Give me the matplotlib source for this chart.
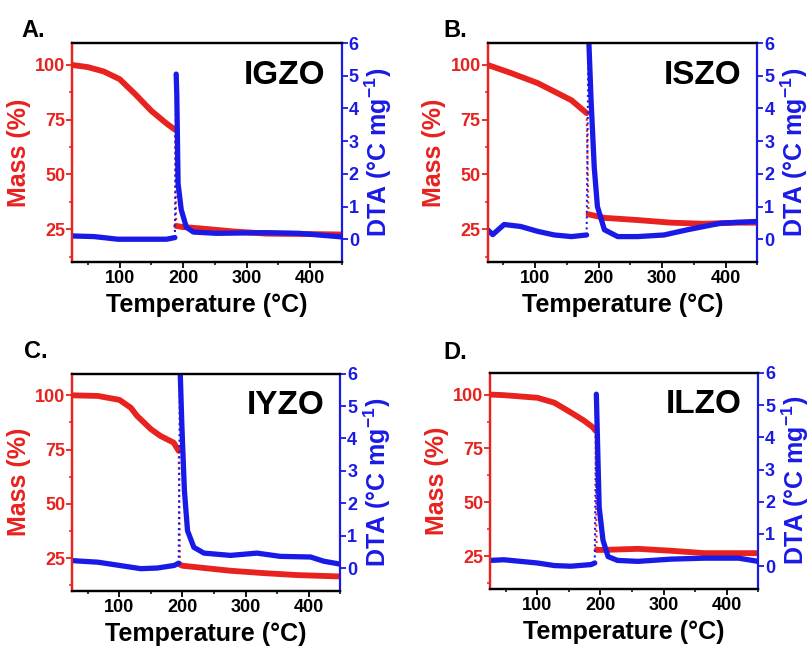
import matplotlib.pyplot as plt
from matplotlib.ticker import MultipleLocator

plt.rcParams['font.family'] = 'Liberation Sans'
plt.rcParams['font.weight'] = 'bold'
plt.rcParams['axes.labelweight'] = 'bold'
plt.rcParams['mathtext.fontset'] = 'custom'
plt.rcParams['mathtext.bf'] = 'Liberation Sans:bold'
plt.rcParams['mathtext.rm'] = 'Liberation Sans:bold'
plt.rcParams['mathtext.default'] = 'bf'

RED = '#e8221e'
BLUE = '#1a1ae6'

# A. IGZO  (t1/v1 before the sharp step, t2/v2 after it)
igzo_mass_t1 = [25, 50, 75, 100, 125, 150, 175, 187]
igzo_mass_v1 = [100, 99, 97, 93.5, 86.5, 79, 73, 70.5]
igzo_mass_t2 = [189, 200, 226, 279, 331, 400, 450]
igzo_mass_v2 = [26.5, 26, 25.4, 24, 23, 22.8, 22.6]
igzo_dta_t1 = [25, 60, 97, 140, 174, 187]
igzo_dta_v1 = [0.1, 0.08, 0.0, 0.0, 0.0, 0.05]
igzo_dta_t2 = [189, 190, 192, 197, 205, 216, 252, 331, 383, 450]
igzo_dta_v2 = [5.05, 4.4, 1.7, 0.9, 0.37, 0.22, 0.18, 0.2, 0.18, 0.07]

# B. ISZO
iszo_mass_t1 = [25, 60, 104, 157, 181]
iszo_mass_v1 = [100, 96.5, 91.7, 83.9, 78]
iszo_mass_t2 = [184, 209, 261, 314, 366, 418, 450]
iszo_mass_v2 = [31.8, 30.2, 29.2, 28, 27.5, 28, 28]
iszo_dta_t1 = [25, 33, 51, 77, 104, 130, 157, 181]
iszo_dta_v1 = [0.29, 0.14, 0.45, 0.39, 0.24, 0.13, 0.08, 0.13]
iszo_dta_t2 = [184, 188, 193, 198, 209, 230, 261, 303, 340, 392, 445, 450]
iszo_dta_v2 = [6.3, 4.25, 2.2, 1.0, 0.29, 0.08, 0.08, 0.13, 0.29, 0.49, 0.54, 0.54]

# C. IYZO
iyzo_mass_t1 = [25, 66, 100, 118, 128, 150, 165, 186, 194]
iyzo_mass_v1 = [100, 99.7, 97.9, 94.3, 90.5, 84.4, 81.3, 78.2, 74.4]
iyzo_mass_t2 = [196, 200, 276, 329, 382, 445, 450]
iyzo_mass_v2 = [22, 21.5, 19.2, 18.1, 17.2, 16.6, 16.6]
iyzo_dta_t1 = [25, 40, 66, 100, 134, 160, 187, 194]
iyzo_dta_v1 = [0.23, 0.21, 0.18, 0.08, -0.02, 0.0, 0.08, 0.15]
iyzo_dta_t2 = [196, 199, 203, 208, 218, 234, 276, 318, 355, 403, 424, 450]
iyzo_dta_v2 = [6.3, 4.4, 2.4, 1.15, 0.64, 0.46, 0.39, 0.46, 0.36, 0.34, 0.21, 0.12]

# D. ILZO
ilzo_mass_t1 = [25, 47, 100, 127, 153, 174, 188, 192]
ilzo_mass_v1 = [100, 99.7, 98.5, 96.2, 91.7, 87.9, 84.8, 83.3]
ilzo_mass_t2 = [194, 206, 259, 312, 365, 450]
ilzo_mass_v2 = [28, 28, 28.5, 27.6, 26.5, 26.5]
ilzo_dta_t1 = [25, 47, 100, 127, 153, 185, 191]
ilzo_dta_v1 = [0.18, 0.2, 0.1, 0.02, 0.0, 0.05, 0.1]
ilzo_dta_t2 = [193.5, 196, 198, 204, 212, 227, 259, 312, 365, 419, 450]
ilzo_dta_v2 = [5.34, 3.36, 1.83, 0.81, 0.3, 0.18, 0.15, 0.22, 0.25, 0.25, 0.15]

panels = [
    ('A.', 'IGZO', [0.089, 0.598, 0.333, 0.336], (0.027, 0.943),
     igzo_mass_t1, igzo_mass_v1, igzo_mass_t2, igzo_mass_v2,
     igzo_dta_t1, igzo_dta_v1, igzo_dta_t2, igzo_dta_v2),
    ('B.', 'ISZO', [0.602, 0.598, 0.333, 0.336], (0.547, 0.943),
     iszo_mass_t1, iszo_mass_v1, iszo_mass_t2, iszo_mass_v2,
     iszo_dta_t1, iszo_dta_v1, iszo_dta_t2, iszo_dta_v2),
    ('C.', 'IYZO', [0.089, 0.094, 0.331, 0.333], (0.030, 0.451),
     iyzo_mass_t1, iyzo_mass_v1, iyzo_mass_t2, iyzo_mass_v2,
     iyzo_dta_t1, iyzo_dta_v1, iyzo_dta_t2, iyzo_dta_v2),
    ('D.', 'ILZO', [0.605, 0.097, 0.331, 0.331], (0.547, 0.449),
     ilzo_mass_t1, ilzo_mass_v1, ilzo_mass_t2, ilzo_mass_v2,
     ilzo_dta_t1, ilzo_dta_v1, ilzo_dta_t2, ilzo_dta_v2),
]

fig = plt.figure(figsize=(8.1, 6.52), dpi=100)

for (letter, name, rect, lpos, mt1, mv1, mt2, mv2, dt1, dv1, dt2, dv2) in panels:
    ax = fig.add_axes(rect)
    ax2 = ax.twinx()

    # mass: thick segments, thin dotted step
    ax.plot(mt1, mv1, color=RED, lw=4.2, solid_capstyle='round')
    ax.plot([mt1[-1], mt2[0]], [mv1[-1], mv2[0]], color=RED, lw=1.5, ls=':')
    ax.plot(mt2, mv2, color=RED, lw=4.2, solid_capstyle='round')

    # DTA
    ax2.plot(dt1, dv1, color=BLUE, lw=3.8, solid_capstyle='round')
    ax2.plot([dt1[-1], dt2[0]], [dv1[-1], dv2[0]], color=BLUE, lw=1.5, ls=':')
    ax2.plot(dt2, dv2, color=BLUE, lw=3.8, solid_capstyle='round')

    ax.set_xlim(25, 450)
    ax.set_ylim(10, 110)
    ax2.set_ylim(-0.7, 6)
    ax.set_xticks([100, 200, 300, 400])
    ax.xaxis.set_minor_locator(MultipleLocator(50))
    ax.set_yticks([25, 50, 75, 100])
    ax.yaxis.set_minor_locator(MultipleLocator(12.5))
    ax2.set_yticks(range(0, 7))

    ax.tick_params(axis='x', which='major', direction='out', length=4, width=1.3, labelsize=13, pad=2)
    ax.tick_params(axis='x', which='minor', direction='out', length=2.5, width=1.1)
    ax.tick_params(axis='y', which='major', direction='out', length=4, width=1.3,
                   colors=RED, labelsize=13, pad=1)
    ax.tick_params(axis='y', which='minor', direction='out', length=2.5, width=1.1, colors=RED)
    ax2.tick_params(axis='y', direction='out', length=4, width=1.3, colors=BLUE,
                    labelsize=13, pad=1)

    for a in (ax, ax2):
        for s in a.spines.values():
            s.set_linewidth(1.6)
    ax.spines['left'].set_color(RED)
    ax2.spines['left'].set_color(RED)
    ax2.spines['right'].set_color(BLUE)
    ax.spines['right'].set_visible(False)

    ax.set_xlabel('Temperature (°C)', fontsize=18, fontweight='bold', labelpad=4)
    ax.set_ylabel('Mass (%)', fontsize=18, fontweight='bold', color=RED, labelpad=3)
    ax2.set_ylabel('DTA (°C mg$^{-1}$)', fontsize=18, fontweight='bold', color=BLUE, labelpad=3)

    ax.text(0.94, 0.815, name, transform=ax.transAxes, ha='right', va='baseline',
            fontsize=24, fontweight='bold', color='black')
    fig.text(lpos[0], lpos[1], letter, ha='left', va='baseline', fontsize=17,
             fontweight='bold', color='black')

fig.savefig('out.png', dpi=100)
